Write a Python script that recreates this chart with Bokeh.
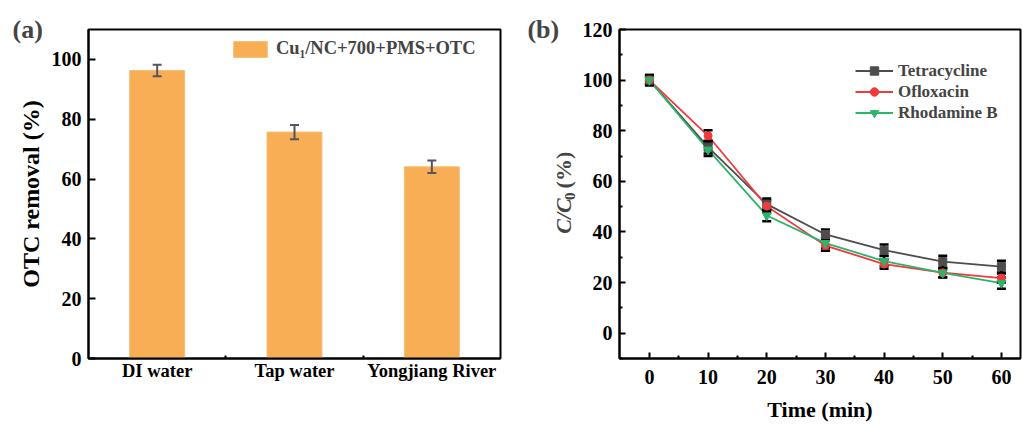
from bokeh.plotting import figure
from bokeh.models import ColumnDataSource, FixedTicker, Label, Legend, LegendItem, Range1d
from bokeh.layouts import row
from bokeh.embed import file_html
from bokeh.resources import INLINE

FONT = "Liberation Serif"

# ---- data panel (a)
sites = ["DI water", "Tap water", "Yongjiang River"]
site_pos = [1, 2, 3]
removal = [96.3, 75.7, 64.1]
removal_err = [1.9, 2.4, 2.1]

# ---- data panel (b)
time_min = [0, 10, 20, 30, 40, 50, 60]
tetracycline = [100.0, 73.5, 51.0, 39.0, 32.8, 28.3, 26.3]
tetracycline_err = [2.0, 2.5, 2.2, 2.0, 2.2, 2.3, 2.3]
ofloxacin = [100.0, 78.0, 50.2, 34.6, 27.3, 23.9, 21.8]
ofloxacin_err = [2.0, 2.2, 2.3, 2.0, 1.8, 1.8, 1.8]
rhodamine = [100.0, 72.5, 46.5, 35.6, 28.5, 23.8, 19.8]
rhodamine_err = [1.5, 2.5, 2.3, 2.0, 2.0, 1.8, 2.2]


def style_axes(p, fs="20px"):
    for ax in (p.xaxis[0], p.yaxis[0]):
        ax.axis_line_width = 2
        ax.axis_line_color = "black"
        ax.major_tick_line_width = 2
        ax.minor_tick_line_width = 2
        ax.major_tick_out = 0
        ax.minor_tick_out = 0
        ax.major_label_text_font = FONT
        ax.major_label_text_font_style = "bold"
        ax.major_label_text_font_size = fs
        ax.major_label_text_color = "black"
        ax.axis_label_text_font = FONT
        ax.axis_label_text_font_style = "bold"
        ax.axis_label_text_font_size = "22px"
        ax.axis_label_text_color = "black"
    p.xgrid.visible = False
    p.ygrid.visible = False
    p.outline_line_color = "black"
    p.outline_line_width = 2
    p.outline_line_alpha = 1


# ================= panel (a)
pa = figure(width=510, height=424, output_backend="svg", toolbar_location=None,
            x_range=Range1d(0.5, 3.5), y_range=Range1d(0, 110),
            min_border_left=88, min_border_right=10, min_border_top=29, min_border_bottom=63)
style_axes(pa)
src_a = ColumnDataSource(dict(x=site_pos, top=removal,
                              up=[v + e for v, e in zip(removal, removal_err)],
                              lo=[v - e for v, e in zip(removal, removal_err)]))
bars = pa.vbar(x="x", top="top", width=0.4, source=src_a, fill_color="#F7AE55",
               line_color="#F9BE78", line_width=1)
pa.segment(x0="x", y0="lo", x1="x", y1="up", source=src_a, line_color="#575360", line_width=2)
pa.scatter(x="x", y="up", source=src_a, marker="dash", size=9, line_width=2, line_color="#575360")
pa.scatter(x="x", y="lo", source=src_a, marker="dash", size=9, line_width=2, line_color="#575360")

pa.xaxis.ticker = FixedTicker(ticks=site_pos, minor_ticks=[1.5, 2.5])
pa.xaxis.major_label_overrides = {p: s for p, s in zip(site_pos, sites)}
pa.xaxis.major_label_text_font_size = "18.5px"
pa.xaxis.major_tick_in = 0
pa.xaxis.minor_tick_in = 3
pa.xaxis.major_label_standoff = 2
pa.yaxis.ticker = FixedTicker(ticks=[0, 20, 40, 60, 80, 100], minor_ticks=[])
pa.yaxis.major_tick_in = 7
pa.yaxis.major_label_standoff = 7
pa.yaxis.axis_label = "OTC removal (%)"
pa.yaxis.axis_label_text_font_size = "24px"
pa.yaxis.axis_label_standoff = 5

leg_a = Legend(items=[LegendItem(label="Cu\u2081/NC+700+PMS+OTC", renderers=[bars])],
               location=(141, 299), glyph_width=42, glyph_height=20, padding=0, margin=0,
               spacing=0, label_standoff=5, border_line_color=None, background_fill_alpha=0,
               label_text_font=FONT, label_text_font_style="bold", label_text_font_size="18.5px",
               label_height=20)
pa.add_layout(leg_a)
pa.add_layout(Label(x=-0.053, y=110, text="(a)",
                    text_font=FONT, text_font_style="bold", text_font_size="26px",
                    text_baseline="middle", text_align="left"), "above")

# ================= panel (b)
pb = figure(width=512, height=424, output_backend="svg", toolbar_location=None,
            x_range=Range1d(-5.1, 63.25), y_range=Range1d(-10, 120),
            min_border_left=109, min_border_right=2, min_border_top=29, min_border_bottom=63)
style_axes(pb)
pb.xaxis.ticker = FixedTicker(ticks=time_min, minor_ticks=[5, 15, 25, 35, 45, 55])
pb.xaxis.major_tick_in = 6
pb.xaxis.minor_tick_in = 3
pb.xaxis.major_label_standoff = 11
pb.xaxis.axis_label = "Time (min)"
pb.xaxis.axis_label_standoff = 10
pb.yaxis.ticker = FixedTicker(ticks=[0, 20, 40, 60, 80, 100, 120],
                              minor_ticks=[-10, 10, 30, 50, 70, 90, 110])
pb.yaxis.major_tick_in = 6
pb.yaxis.minor_tick_in = 3
pb.yaxis.major_label_standoff = 7

series = [
    ("Tetracycline", tetracycline, tetracycline_err, "#4D4D4D", "square", 8),
    ("Ofloxacin", ofloxacin, ofloxacin_err, "#F03A3C", "circle", 8),
    ("Rhodamine B", rhodamine, rhodamine_err, "#2DB36A", "inverted_triangle", 9),
]
items = []
srcs = []
line_rs = []
for name, vals, errs, col, mk, sz in series:
    s = ColumnDataSource(dict(x=time_min, y=vals,
                              up=[v + e for v, e in zip(vals, errs)],
                              lo=[v - e for v, e in zip(vals, errs)]))
    srcs.append(s)
    line_rs.append(pb.line("x", "y", source=s, line_color=col, line_width=1.8))
for s in srcs:
    pb.segment(x0="x", y0="lo", x1="x", y1="up", source=s, line_color="black", line_width=2.5)
    pb.scatter(x="x", y="up", source=s, marker="dash", size=9, line_width=2.5, line_color="black")
    pb.scatter(x="x", y="lo", source=s, marker="dash", size=9, line_width=2.5, line_color="black")
for (name, vals, errs, col, mk, sz), s, lr in zip(series, srcs, line_rs):
    mr = pb.scatter("x", "y", source=s, marker=mk, size=sz, fill_color=col, line_color=col)
    items.append(LegendItem(label=name, renderers=[lr, mr]))

leg_b = Legend(items=items, location=(236, 235), glyph_width=38, glyph_height=21, padding=0,
               margin=0, spacing=0, label_standoff=5, border_line_color=None,
               background_fill_alpha=0, label_text_font=FONT, label_text_font_style="bold",
               label_text_font_size="17px", label_height=21)
pb.add_layout(leg_b)
pb.add_layout(Label(x=-20.8, y=120, text="(b)",
                    text_font=FONT, text_font_style="bold", text_font_size="26px",
                    text_baseline="middle", text_align="left"), "above")
# y-axis label  C/C0 (%)
lab_x = -14.65
pb.add_layout(Label(x=lab_x, y=39.3, text="C/C",
                    text_font=FONT, text_font_style="bold italic", text_font_size="22px",
                    text_baseline="middle", text_align="left", angle=1.5708), "left")
pb.add_layout(Label(x=lab_x + 1.1, y=52.6, text="0",
                    text_font=FONT, text_font_style="bold", text_font_size="15px",
                    text_baseline="middle", text_align="left", angle=1.5708), "left")
pb.add_layout(Label(x=lab_x, y=57.2, text="(%)",
                    text_font=FONT, text_font_style="bold", text_font_size="22px",
                    text_baseline="middle", text_align="left", angle=1.5708), "left")

layout = row(pa, pb)
open("out.html", "w").write(file_html(layout, INLINE))
